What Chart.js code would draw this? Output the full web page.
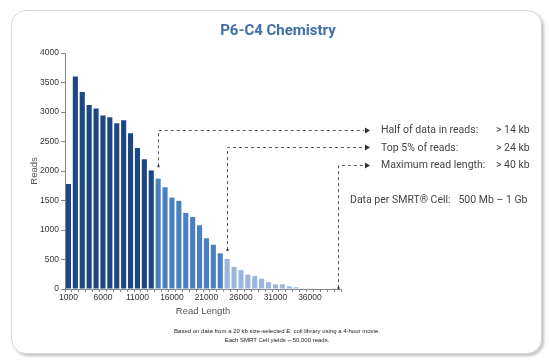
<!DOCTYPE html>
<html>
<head>
<meta charset="utf-8">
<script src="https://cdn.jsdelivr.net/npm/chart.js@4"></script>
<style>
  html, body { margin: 0; padding: 0; background: #fff; }
  #wrap { position: relative; width: 550px; height: 364px; overflow: hidden; }
  #card {
    position: absolute; left: 11px; top: 10px; width: 529px; height: 342px;
    border: 1px solid #d6d6d6; border-radius: 15px;
    box-shadow: 2px 2px 3px rgba(0,0,0,0.25);
  }
  #chartBox { position: absolute; left: 0; top: 0; width: 550px; height: 364px; }
  .title {
    position: absolute; left: 0; width: 556px; top: 21px; text-align: center;
    font-family: Roboto, sans-serif; font-weight: 700; font-size: 15px; color: #3f6ea8;
  }
  .note { position: absolute; font-family: Roboto, sans-serif; font-size: 10.5px; color: #444; white-space: nowrap; }
  .foot {
    position: absolute; left: 0; width: 554px; text-align: center;
    font-family: "Liberation Sans", Arial, sans-serif; font-size: 6px; color: #222; white-space: nowrap;
  }
</style>
</head>
<body>
<div id="wrap">
  <div id="card"></div>
  <div id="chartBox"><canvas id="readChart"></canvas></div>
  <div class="title">P6-C4 Chemistry</div>

  <div class="note" style="left:381px; top:123px;">Half of data in reads:</div>
  <div class="note" style="left:496px; top:123px;">&gt; 14 kb</div>
  <div class="note" style="left:381px; top:141px;">Top 5% of reads:</div>
  <div class="note" style="left:496px; top:141px;">&gt; 24 kb</div>
  <div class="note" style="left:381px; top:158px;">Maximum read length:</div>
  <div class="note" style="left:496px; top:158px;">&gt; 40 kb</div>
  <div class="note" style="left:350px; top:193px;">Data per SMRT® Cell:&nbsp;&nbsp;&nbsp;500 Mb – 1 Gb</div>

  <div class="foot" style="top:328px;">Based on data from a 20 kb size-selected <i>E.</i> coli library using a 4-hour movie.</div>
  <div class="foot" style="top:337px;">Each SMRT Cell yields ~ 50,000 reads.</div>
</div>

<script>
// read length bins (bp)
const readLengths = ['1000','2000','3000','4000','5000','6000','7000','8000','9000','10000',
  '11000','12000','13000','14000','15000','16000','17000','18000','19000','20000',
  '21000','22000','23000','24000','25000','26000','27000','28000','29000','30000',
  '31000','32000','33000','34000','35000','36000','37000','38000','39000','40000'];

// number of reads per bin
const readCounts = [1780, 3600, 3340, 3120, 3060, 2940, 2910, 2810, 2860, 2640,
  2390, 2200, 2010, 1870, 1725, 1550, 1495, 1290, 1220, 1080,
  860, 750, 605, 510, 375, 320, 245, 222, 175, 115,
  80, 80, 45, 28, 12, 5, 0, 0, 0, 0];

// y axis range
const readTicks = [0, 500, 1000, 1500, 2000, 2500, 3000, 3500, 4000];

// callouts: bin where the line drops, height of the horizontal leg, where it ends
const calloutBins = ['14000', '24000', '40000'];
const calloutTop = [2700, 2410, 2105];
const calloutBottom = [2080, 660, 15];

const darkBlue = '#1c4783';
const midBlue = '#4a80c2';
const lightBlue = '#9ab6de';

const barColors = readLengths.map(len => {
    const v = Number(len);
    if (v < 14000) return darkBlue;
    if (v < 24000) return midBlue;
    return lightBlue;
});

const calloutPlugin = {
    id: 'callouts',
    afterDraw(chart) {
        const ctx = chart.ctx;
        const xs = chart.scales.x;
        const ys = chart.scales.y;
        const legEnd = 364;
        ctx.save();
        ctx.strokeStyle = '#555';
        ctx.fillStyle = '#333';
        ctx.lineWidth = 1;
        calloutBins.forEach((bin, i) => {
            const x = Math.round(xs.getPixelForValue(readLengths.indexOf(bin))) + 0.5;
            const yTop = Math.round(ys.getPixelForValue(calloutTop[i])) + 0.5;
            const yBot = ys.getPixelForValue(calloutBottom[i]);
            ctx.setLineDash([3, 3]);
            ctx.beginPath();
            ctx.moveTo(x, yBot);
            ctx.lineTo(x, yTop);
            ctx.lineTo(legEnd, yTop);
            ctx.stroke();
            ctx.setLineDash([]);
            // small end dot
            ctx.fillRect(x - 1, yBot - 1, 2, 2);
            // arrow head
            ctx.beginPath();
            ctx.moveTo(legEnd + 1, yTop - 3);
            ctx.lineTo(legEnd + 6, yTop);
            ctx.lineTo(legEnd + 1, yTop + 3);
            ctx.closePath();
            ctx.fill();
        });
        ctx.restore();
    }
};

const ctx = document.getElementById('readChart').getContext('2d');
new Chart(ctx, {
    type: 'bar',
    data: {
        labels: readLengths,
        datasets: [{
            label: 'Reads',
            data: readCounts,
            backgroundColor: barColors,
            barPercentage: 0.74,
            categoryPercentage: 1.0
        }]
    },
    options: {
        responsive: true,
        maintainAspectRatio: false,
        animation: false,
        layout: {
            padding: { left: 29, right: 209, top: 53, bottom: 45 }
        },
        plugins: {
            legend: { display: false },
            tooltip: { enabled: false }
        },
        scales: {
            x: {
                afterFit: axis => { axis.height = 30; },
                grid: {
                    offset: true,
                    drawOnChartArea: false,
                    drawTicks: true,
                    tickLength: 3,
                    color: '#888'
                },
                border: { display: true, color: '#888' },
                ticks: {
                    autoSkip: false,
                    maxRotation: 0,
                    padding: 1,
                    color: '#333',
                    font: { family: 'Liberation Sans', size: 8.5 },
                    callback: (val, idx) => idx % 5 === 0 ? readLengths[idx] : ''
                },
                title: {
                    display: true,
                    text: 'Read Length',
                    color: '#555',
                    padding: { top: 0, bottom: 2 },
                    font: { family: 'Liberation Sans', size: 9.5 }
                }
            },
            y: {
                min: readTicks[0],
                max: readTicks[readTicks.length - 1],
                afterFit: axis => { axis.width = 36; },
                afterBuildTicks: axis => { axis.ticks = readTicks.map(v => ({ value: v })); },
                grid: {
                    drawOnChartArea: false,
                    drawTicks: true,
                    tickLength: 4,
                    color: '#888'
                },
                border: { display: true, color: '#888' },
                ticks: {
                    padding: 2,
                    color: '#333',
                    font: { family: 'Liberation Sans', size: 8.5 },
                    callback: v => String(v)
                },
                title: {
                    display: true,
                    text: 'Reads',
                    color: '#555',
                    padding: { top: 0, bottom: 0 },
                    font: { family: 'Liberation Sans', size: 9.5 }
                }
            }
        }
    },
    plugins: [calloutPlugin]
});
</script>
</body>
</html>
